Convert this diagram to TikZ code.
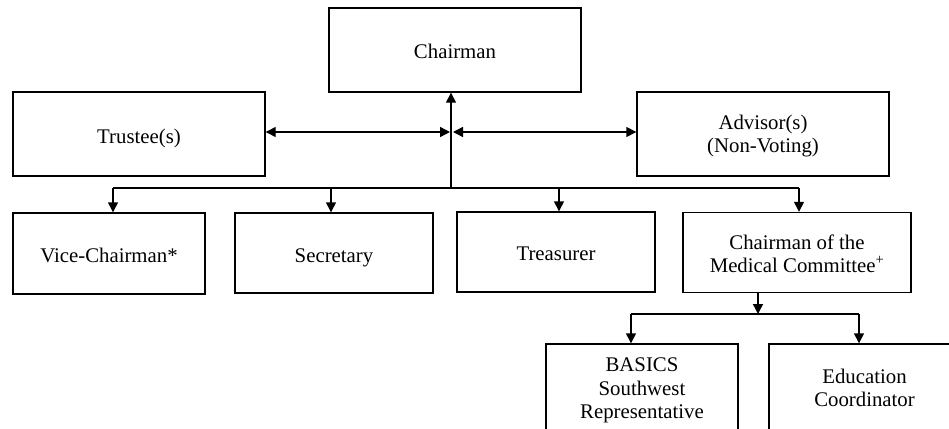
\documentclass[tikz,border=0pt]{standalone}
\usepackage{fontspec}
\setmainfont{Liberation Serif}
\usetikzlibrary{arrows.meta}
\begin{document}
\begin{tikzpicture}[x=1pt,y=-1pt,
  box/.style={draw,line width=1.4pt,rectangle,inner sep=0pt},
  txt/.style={anchor=base,align=center,inner sep=0pt,
    font=\fontsize{20.8}{23.5}\selectfont},
  conn/.style={line width=1.4pt,-{Triangle[length=10pt,width=10pt]}},
  dconn/.style={line width=1.4pt,{Triangle[length=10pt,width=10pt]}-{Triangle[length=10pt,width=10pt]}},
  bus/.style={line width=1.4pt}]
\useasboundingbox (0,0) rectangle (949,428);
% boxes
\node[box,minimum width=252pt,minimum height=84pt] (chair) at (455,50) {};
\node[box,minimum width=252pt,minimum height=84pt] (trustee) at (139,134) {};
\node[box,minimum width=252pt,minimum height=84pt] (advisor) at (763,134) {};
\node[box,minimum width=192pt,minimum height=81pt] (vice) at (109,253.5) {};
\node[box,minimum width=198pt,minimum height=80pt] (secr) at (334,253) {};
\node[box,minimum width=198pt,minimum height=80pt] (treas) at (556,252) {};
\node[box,minimum width=228pt,minimum height=80pt] (med) at (797,252.5) {};
\node[box,minimum width=192pt,minimum height=88pt] (basics) at (642,388) {};
\node[box,minimum width=191pt,minimum height=88pt] (edu) at (864.5,388) {};
% texts (anchor=base is the baseline of the last line)
\node[txt] (chair-t) at (455,58.7) {Chairman};
\node[txt] (trustee-t) at (139,143.3) {Trustee(s)};
\node[txt] (advisor-t) at (763,152.7) {Advisor(s)\\(Non-Voting)};
\node[txt] (vice-t) at (109,262.5) {Vice-Chairman*};
\node[txt] (secr-t) at (334,262.5) {Secretary};
\node[txt] (treas-t) at (556,260.5) {Treasurer};
\node[txt] (med-t) at (797,272.5) {Chairman of the\\Medical Committee\textsuperscript{+}};
\node[txt] (basics-t) at (642,418.5) {BASICS\\Southwest\\Representative};
\node[txt] (edu-t) at (864.5,406.5) {Education\\Coordinator};
% connectors
\coordinate (hubL) at (450,132);
\coordinate (hubR) at (453,132);
\coordinate (bus) at (451,188);
\coordinate (b1) at (113,188);
\coordinate (b2) at (331,188);
\coordinate (b3) at (559,188);
\coordinate (b4) at (799,188);
\draw[conn] (bus) -- (bus |- chair.south);
\draw[dconn] (trustee.east |- hubL) -- (hubL);
\draw[dconn] (hubR) -- (advisor.west |- hubR);
\draw[bus] (b1) -- (b4);
\draw[conn] (b1) -- (b1 |- vice.north);
\draw[conn] (b2) -- (b2 |- secr.north);
\draw[conn] (b3) -- (b3 |- treas.north);
\draw[conn] (b4) -- (b4 |- med.north);
\coordinate (m) at (758,314);
\coordinate (m1) at (631,314);
\coordinate (m2) at (859,314);
\draw[conn] (m |- med.south) -- (m);
\draw[bus] (m1) -- (m2);
\draw[conn] (m1) -- (m1 |- basics.north);
\draw[conn] (m2) -- (m2 |- edu.north);
\end{tikzpicture}
\end{document}
